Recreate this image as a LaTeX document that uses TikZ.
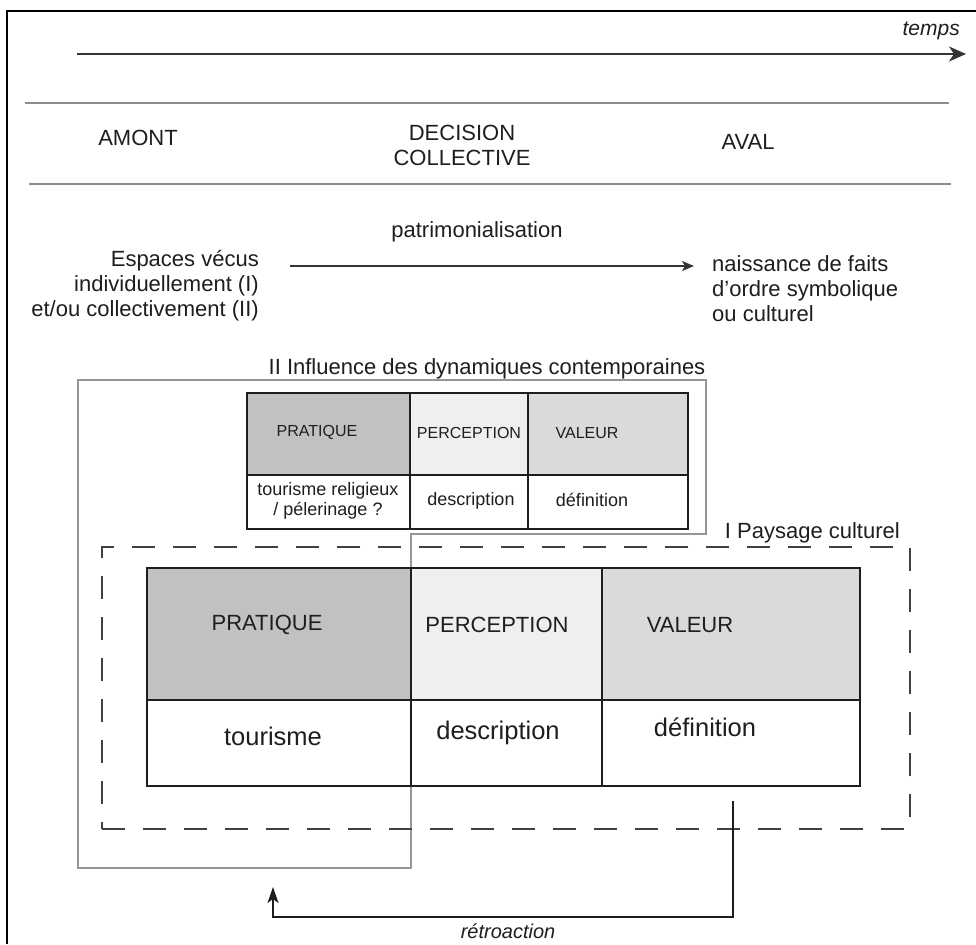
\documentclass[tikz,border=0pt]{standalone}
\usepackage{fontspec}
\setmainfont{Liberation Sans}
\usetikzlibrary{arrows.meta}
\definecolor{hdrA}{RGB}{192,193,193}
\definecolor{hdrB}{RGB}{239,239,239}
\definecolor{hdrC}{RGB}{218,218,218}
\definecolor{rulegray}{RGB}{140,140,140}
\definecolor{outlgray}{RGB}{150,150,150}
\definecolor{ink}{RGB}{30,30,30}
\begin{document}
\begin{tikzpicture}[x=1pt,y=-1pt,
  txt/.style={inner sep=0pt, text=ink, font=\fontsize{22}{25}\selectfont},
  itxt/.style={inner sep=0pt, text=ink, font=\itshape\fontsize{21}{25}\selectfont},
  smallhd/.style={inner sep=0pt, text=ink, font=\fontsize{16}{19}\selectfont},
  smallbd/.style={inner sep=0pt, text=ink, align=center, font=\fontsize{18}{20.5}\selectfont},
  bigbd/.style={inner sep=0pt, text=ink, font=\fontsize{25.5}{28}\selectfont},
  cellbox/.style={draw=ink, line width=1.7pt, inner sep=0pt, anchor=north west},
  frameline/.style={draw=black, line width=2.6pt},
  grayrule/.style={draw=rulegray, line width=2pt},
  outline/.style={draw=outlgray, line width=1.5pt},
  dashbox/.style={draw=ink!85, line width=2pt, dash pattern=on 23pt off 18pt, inner sep=0pt, anchor=north west},
  tarrow/.style={draw=ink!90, line width=1.6pt, -{Stealth[length=17pt,width=15pt,inset=5pt]}},
  parrow/.style={draw=ink!90, line width=1.5pt, -{Stealth[length=12pt,width=10pt,inset=3pt]}},
  rarrow/.style={draw=ink, line width=1.6pt, -{Stealth[length=16pt,width=11pt,inset=4pt]}}
]
\useasboundingbox (0,0) rectangle (976,944);
\fill[white] (0,0) rectangle (976,944);

% frame (top and left edges)
\coordinate (fa) at (7,944);
\coordinate (fb) at (7,11);
\coordinate (fc) at (976,11);
\draw[frameline] (fa) -- (fb) -- (fc);

% time arrow
\node[itxt, anchor=east] (temps) at (960,31) {temps};
\coordinate (t0) at (77,54);
\coordinate (t1) at (966,54);
\draw[tarrow] (t0) -- (t1);

% rules
\coordinate (r1a) at (25,103);
\coordinate (r1b) at (949,103);
\coordinate (r2a) at (29,184);
\coordinate (r2b) at (951,184);
\draw[grayrule] (r1a) -- (r1b);
\draw[grayrule] (r2a) -- (r2b);

\node[txt] (amont) at (138,138) {AMONT};
\node[txt, align=center] (decision) at (462,145) {DECISION\\COLLECTIVE};
\node[txt] (aval) at (748,142) {AVAL};

% patrimonialisation
\node[txt] (patr) at (477,232) {patrimonialisation};
\node[txt, align=right, anchor=east, font=\fontsize{22}{25}\selectfont] (espaces) at (259,286)
  {Espaces vécus\\individuellement (I)\\et/ou collectivement (II)};
\node[txt, align=left, anchor=west, font=\fontsize{22}{25}\selectfont] (naiss) at (712,289)
  {naissance de faits\\d’ordre symbolique\\ou culturel};
\coordinate (pA) at (290,266);
\coordinate (pB) at (694,266);
\draw[parrow] (pA) -- (pB);

% II outline
\node[txt] (infl) at (487,369) {II Influence des dynamiques contemporaines};
\coordinate (o1) at (78,380);
\coordinate (o2) at (706,380);
\coordinate (o3) at (706,534);
\coordinate (o4) at (411,534);
\coordinate (o5) at (411,868);
\coordinate (o6) at (78,868);
\draw[outline] (o1) -- (o2) -- (o3) -- (o4) -- (o5) -- (o6) -- cycle;

% small table
\node[cellbox, fill=hdrA, minimum width=163pt, minimum height=82pt] (s1) at (246,392) {};
\node[cellbox, fill=hdrB, minimum width=118pt, minimum height=82pt] (s2) at (409,392) {};
\node[cellbox, fill=hdrC, minimum width=160pt, minimum height=82pt] (s3) at (527,392) {};
\node[cellbox, fill=white, minimum width=163pt, minimum height=54pt] (s4) at (246,474) {};
\node[cellbox, fill=white, minimum width=118pt, minimum height=54pt] (s5) at (409,474) {};
\node[cellbox, fill=white, minimum width=160pt, minimum height=54pt] (s6) at (527,474) {};
\node[smallhd] (s1t) at (317,432) {PRATIQUE};
\node[smallhd] (s2t) at (469,433) {PERCEPTION};
\node[smallhd] (s3t) at (587,433) {VALEUR};
\node[smallbd] (s4t) at (328,501) {tourisme religieux\\/ pélerinage ?};
\node[smallbd] (s5t) at (471,501) {description};
\node[smallbd] (s6t) at (592,500) {définition};

% I dashed box
\node[txt, anchor=east] (pays) at (900,533) {I Paysage culturel};
\node[dashbox, minimum width=808pt, minimum height=282pt] (dbox) at (101,546) {};

% big table
\node[cellbox, fill=hdrA, minimum width=264pt, minimum height=132pt] (b1) at (146,567) {};
\node[cellbox, fill=hdrB, minimum width=191pt, minimum height=132pt] (b2) at (410,567) {};
\node[cellbox, fill=hdrC, minimum width=258pt, minimum height=132pt] (b3) at (601,567) {};
\node[cellbox, fill=white, minimum width=264pt, minimum height=86pt] (b4) at (146,699) {};
\node[cellbox, fill=white, minimum width=191pt, minimum height=86pt] (b5) at (410,699) {};
\node[cellbox, fill=white, minimum width=258pt, minimum height=86pt] (b6) at (601,699) {};
\node[txt] (b1t) at (267,625) {PRATIQUE};
\node[txt] (b2t) at (497,625) {PERCEPTION};
\node[txt] (b3t) at (690,625) {VALEUR};
\node[bigbd] (b4t) at (273,736) {tourisme};
\node[bigbd] (b5t) at (498,733) {description};
\node[bigbd] (b6t) at (705,727) {définition};

% retroaction
\coordinate (rs) at (733,801);
\coordinate (re) at (273,887);
\draw[rarrow] (rs) -- ++(0,116) -| (re);
\node[itxt, font=\itshape\fontsize{20}{24}\selectfont] (retro) at (508,931) {rétroaction};
\end{tikzpicture}
\end{document}
